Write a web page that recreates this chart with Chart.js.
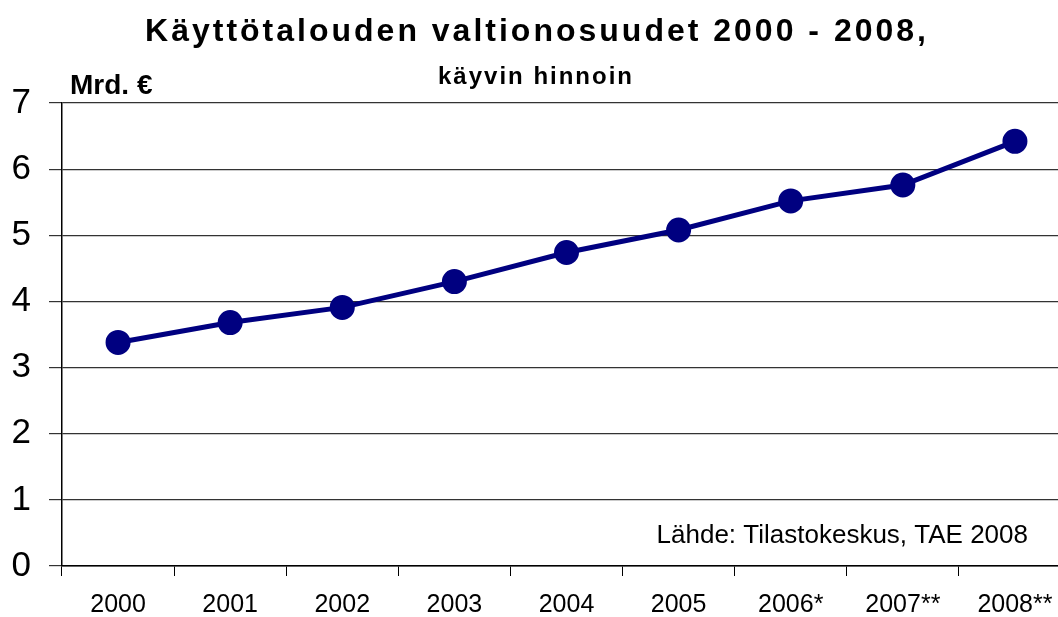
<!DOCTYPE html>
<html>
<head>
<meta charset="utf-8">
<script src="https://cdn.jsdelivr.net/npm/chart.js@4"></script>
<style>
  html, body { margin: 0; padding: 0; background: #fff; overflow: hidden; }
</style>
</head>
<body>
<canvas id="chart" width="1086" height="617"></canvas>
<script>
const years = ['2000', '2001', '2002', '2003', '2004', '2005', '2006*', '2007**', '2008**'];
const grants = [3.38, 3.68, 3.91, 4.30, 4.74, 5.08, 5.52, 5.76, 6.42];
const yTicks = [0, 1, 2, 3, 4, 5, 6, 7];

const font = '"Liberation Sans", Arial, sans-serif';

// otsikot ja lähdeteksti
const labels = {
  id: 'labels',
  afterDraw(chart) {
    const c = chart.ctx;
    c.save();
    c.fillStyle = '#000';
    c.textBaseline = 'alphabetic';
    c.textAlign = 'center';
    c.letterSpacing = '3px';
    c.font = 'bold 32px ' + font;
    c.fillText('Käyttötalouden valtionosuudet 2000 - 2008,', 537, 41);
    c.letterSpacing = '2px';
    c.font = 'bold 24px ' + font;
    c.fillText('käyvin hinnoin', 536, 84);
    c.textAlign = 'left';
    c.letterSpacing = '0px';
    c.font = 'bold 28px ' + font;
    c.fillText('Mrd. €', 70, 94);
    c.textAlign = 'right';
    c.font = '26px ' + font;
    c.fillText('Lähde: Tilastokeskus, TAE 2008', 1028, 543);
    c.restore();
  }
};

new Chart(document.getElementById('chart').getContext('2d'), {
  type: 'line',
  data: {
    labels: years,
    datasets: [{
      data: grants,
      borderColor: '#000080',
      backgroundColor: '#000080',
      borderWidth: 5,
      tension: 0,
      pointRadius: 10,
      pointHoverRadius: 10
    }]
  },
  options: {
    responsive: false,
    animation: false,
    layout: { padding: { top: 103, right: 2, left: 0, bottom: 0 } },
    plugins: {
      legend: { display: false },
      tooltip: { enabled: false }
    },
    scales: {
      x: {
        offset: true,
        grid: { offset: true, drawOnChartArea: false, drawTicks: true, tickLength: 10, color: '#000', lineWidth: 1 },
        border: { color: '#000', width: 1.5 },
        ticks: { color: '#000', font: { family: font, size: 25 }, padding: 14, maxRotation: 0 },
        afterFit(s) { s.height = 51; }
      },
      y: {
        min: 0,
        max: 7,
        afterBuildTicks(s) { s.ticks = yTicks.map(v => ({ value: v })); },
        grid: { color: '#333', lineWidth: 1.2, tickLength: 13 },
        border: { color: '#000', width: 1.5 },
        ticks: { color: '#000', font: { family: font, size: 35 }, padding: 18 },
        afterFit(s) { s.width = 62; }
      }
    }
  },
  plugins: [labels]
});
</script>
</body>
</html>
